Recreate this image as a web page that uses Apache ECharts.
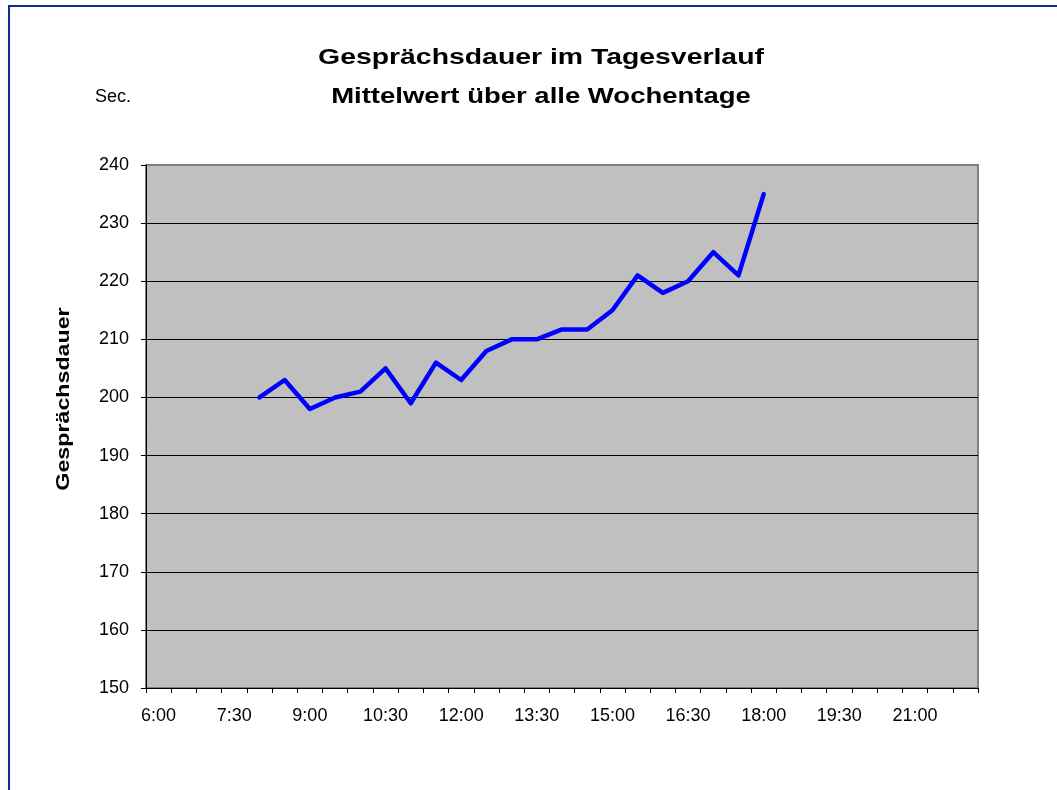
<!DOCTYPE html>
<html>
<head>
<meta charset="utf-8">
<script src="https://cdn.jsdelivr.net/npm/echarts@6/dist/echarts.min.js"></script>
<style>
html,body{margin:0;padding:0;background:#fff;}
#chart{width:1057px;height:790px;}
</style>
</head>
<body>
<div id="chart"></div>
<script>
// Categories: half-hour slots 6:00 .. 22:00
const categories = ["6:00","6:30","7:00","7:30","8:00","8:30","9:00","9:30","10:00","10:30","11:00","11:30","12:00","12:30","13:00","13:30","14:00","14:30","15:00","15:30","16:00","16:30","17:00","17:30","18:00","18:30","19:00","19:30","20:00","20:30","21:00","21:30","22:00"];
// Measured times and average call duration (sec.)
const dataTimes = ["8:00","8:30","9:00","9:30","10:00","10:30","11:00","11:30","12:00","12:30","13:00","13:30","14:00","14:30","15:00","15:30","16:00","16:30","17:00","17:30","18:00"];
const durations = [200,203,198,200,201,205,199,206,203,208,210,210,211.7,211.7,215,221,218,220,225,221,235];
const yTicks = [150,160,170,180,190,200,210,220,230,240];
const titleLines = ["Gesprächsdauer im Tagesverlauf","Mittelwert über alle Wochentage"];
const yName = "Gesprächsdauer";
const unitLabel = "Sec.";

const seriesData = categories.map(c => {
  const i = dataTimes.indexOf(c);
  return i >= 0 ? durations[i] : null;
});
const gridColors = yTicks.map((t, i) => i === yTicks.length - 1 ? '#808080' : '#000000');

const FONT = '"Liberation Sans", Arial, Helvetica, sans-serif';
const chart = echarts.init(document.getElementById('chart'), null, {renderer:'canvas'});
chart.setOption({
  animation:false,
  backgroundColor:'#ffffff',
  grid:{left:146, right:79, top:165, bottom:102, show:true, backgroundColor:'#c0c0c0', borderColor:'#808080', borderWidth:2, containLabel:false},
  xAxis:{
    type:'category', data:categories, boundaryGap:true,
    axisLine:{show:true, onZero:false, lineStyle:{color:'#000', width:1}},
    axisTick:{show:true, interval:0, length:5, inside:false, lineStyle:{color:'#000'}},
    axisLabel:{interval:2, margin:19, color:'#000', fontSize:18, fontFamily:FONT},
    splitLine:{show:false}
  },
  yAxis:{
    type:'value', min:yTicks[0], max:yTicks[yTicks.length-1], interval:10,
    axisLine:{show:true, lineStyle:{color:'#000', width:1}},
    axisTick:{show:true, length:5, inside:false, lineStyle:{color:'#000'}},
    axisLabel:{margin:17, color:'#000', fontSize:18, fontFamily:FONT},
    splitLine:{show:true, lineStyle:{color:gridColors, width:1}}
  },
  series:[{
    type:'line', data:seriesData, showSymbol:false, symbol:'none',
    connectNulls:false,
    lineStyle:{color:'#0000ff', width:4.5, join:'round', cap:'round'},
    z:5
  }],
  graphic:[
    {type:'rect', silent:true, shape:{x:9, y:6, width:1200, height:1000}, style:{fill:'none', stroke:'#102c8c', lineWidth:2}, z:-10},
    {type:'text', x:541, y:58, scaleX:1.29, style:{text:titleLines[0], x:0, y:0, align:'center', verticalAlign:'middle', textAlign:'center', textVerticalAlign:'middle', fontSize:22, fontWeight:'bold', fontFamily:FONT, fill:'#000'}},
    {type:'text', x:541, y:97, scaleX:1.25, style:{text:titleLines[1], x:0, y:0, align:'center', verticalAlign:'middle', textAlign:'center', textVerticalAlign:'middle', fontSize:22, fontWeight:'bold', fontFamily:FONT, fill:'#000'}},
    {type:'text', x:95, y:97, style:{text:unitLabel, x:0, y:0, align:'left', verticalAlign:'middle', textAlign:'left', textVerticalAlign:'middle', fontSize:18, fontFamily:FONT, fill:'#000'}},
    {type:'text', x:64, y:399, rotation:Math.PI/2, scaleX:1.29, style:{text:yName, x:0, y:0, align:'center', verticalAlign:'middle', textAlign:'center', textVerticalAlign:'middle', fontSize:18, fontWeight:'bold', fontFamily:FONT, fill:'#000'}}
  ]
});
</script>
</body>
</html>
